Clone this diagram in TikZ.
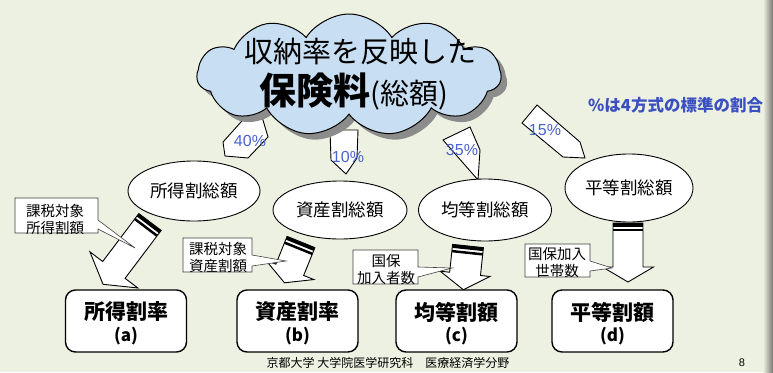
\documentclass[tikz,border=0pt]{standalone}
\usepackage{fontspec}
\newfontfamily\jp{Noto Sans CJK JP}
\newfontfamily\lat{Liberation Sans}
\usetikzlibrary{shapes.symbols,shapes.geometric,shadows}
\definecolor{bg}{RGB}{237,241,226}
\definecolor{cloudblue}{RGB}{200,222,242}
\definecolor{pctblue}{RGB}{72,98,206}
\definecolor{noteblue}{RGB}{58,80,192}
\definecolor{stripgray}{RGB}{120,120,112}
\tikzset{
  ell/.style={ellipse, draw=black, line width=0.9pt, fill=white, inner sep=0pt,
    font=\jp\fontsize{17.5}{20}\selectfont},
  pctarr/.style={draw=black, line width=0.9pt, fill=white, line join=miter},
  pctlbl/.style={text=pctblue, font=\lat\fontsize{16}{18}\selectfont, inner sep=0pt},
  blockarr/.style={draw=black, line width=0.9pt, fill=white, line join=miter},
  callout/.style={draw=black!75, line width=0.6pt, fill=white},
  calltxt/.style={font=\jp\fontsize{14.5}{17}\selectfont, align=center, inner sep=0pt},
  resbox/.style={draw=black, line width=1.4pt, fill=white, rounded corners=10pt,
    minimum width=121pt, minimum height=62pt, inner sep=0pt},
  restxt/.style={font=\jp\bfseries\fontsize{21}{24}\selectfont, inner sep=0pt},
  reslet/.style={font=\jp\bfseries\fontsize{17}{20}\selectfont, inner sep=0pt},
}
\newcommand\stripearrow[8]{%
  \begin{scope}[shift={(#1,#2)},rotate=-#3]
    \draw[blockarr] (-#4,0) -- (#4,0) -- (#4,#5) -- (#6,#5) -- (0,{#5+#7}) -- (-#6,#5) -- (-#4,#5) -- cycle;
    \fill[black] (-#4,0) rectangle (#4,3.5);
    \fill[black] (-#4,5.5) rectangle (#4,8);
    \coordinate (#8) at (0,{#5+#7});
  \end{scope}}
\begin{document}
\begin{tikzpicture}[x=1pt,y=-1pt]
\useasboundingbox (0,0) rectangle (773,372);
\fill[bg] (0,0) rectangle (773,372);

% percentage arrows (under the cloud)
\draw[pctarr] (250,112) -- (260,110) -- (268,137) -- (248,158) -- (225,156) -- (223,142) -- cycle;
\draw[pctarr] (330,130) -- (358,130) -- (357,158) -- (346,174) -- (331,160) -- cycle;
\draw[pctarr] (443,140) -- (470,127) -- (480,150) -- (478,180) -- cycle;
\draw[pctarr] (537,105) -- (522,123) -- (563,157) -- (585,158) -- (580,142) -- cycle;

% cloud
\node[cloud, cloud puffs=11, cloud puff arc=115, aspect=2.6,
  minimum width=304pt, minimum height=122pt, draw=black, line width=1pt,
  fill=cloudblue, drop shadow={shadow xshift=6pt, shadow yshift=-6pt, fill=black!45, opacity=1}]
  (cl) at (349,75) {};
\node[font=\jp\fontsize{29}{32}\selectfont, inner sep=0pt] (t1) at (360,52) {収納率を反映した};
\node[font=\jp\fontsize{29}{32}\selectfont, inner sep=0pt] (t2) at (354,92)
  {{\bfseries\fontsize{37}{40}\selectfont 保険料}(総額)};

\node[pctlbl] (p40) at (250,141) {40\%};
\node[pctlbl] (p10) at (348,157) {10\%};
\node[pctlbl] (p35) at (462,150) {35\%};
\node[pctlbl] (p15) at (545,130) {15\%};

% scanned page edge
\shade[left color=bg, right color=stripgray] (763,0) rectangle (773,372);

\node[anchor=west, text=noteblue, font=\jp\bfseries\fontsize{16.5}{20}\selectfont, inner sep=0pt]
  (note) at (588,105) {\%は4方式の標準の割合};

% ellipses
\node[ell, minimum width=132pt, minimum height=60pt] (e1) at (194,191) {所得割総額};
\node[ell, minimum width=134pt, minimum height=58pt] (e2) at (340,210) {資産割総額};
\node[ell, minimum width=133pt, minimum height=62pt] (e3) at (485,210) {均等割総額};
\node[ell, minimum width=128pt, minimum height=68pt] (e4) at (629,188) {平等割総額};

% striped block arrows
\stripearrow{150}{222}{37}{14}{60}{30}{18}{ta}
\stripearrow{301}{242}{22}{15}{30}{26}{14}{tb}
\stripearrow{468}{246}{6}{15.5}{28}{25}{16}{tc}
\stripearrow{628}{223}{0}{15}{44}{25.5}{15}{td}

% callouts
\draw[callout] (15,198) -- (98,198) -- (98,220) -- (135,248) -- (98,229) -- (98,233) -- (15,233) -- cycle;
\node[calltxt] (c1) at (55,219) {課税対象\\所得割額};
\draw[callout] (183,238) -- (252,238) -- (252,255) -- (286,261) -- (252,266) -- (252,272) -- (183,272) -- cycle;
\node[calltxt] (c2) at (218,257) {課税対象\\資産割額};
\draw[callout] (353,250) -- (418,250) -- (418,267) -- (452,268) -- (418,277) -- (418,284) -- (353,284) -- cycle;
\node[calltxt] (c3) at (386,270) {国保\\加入者数};
\draw[callout] (525,244) -- (590,244) -- (590,261) -- (612,268) -- (590,271) -- (590,277) -- (525,277) -- cycle;
\node[calltxt] (c4) at (557,263) {国保加入\\世帯数};

% result boxes
\node[resbox] (ba) at (126,321) {};
\node[resbox] (bb) at (297.5,321) {};
\node[resbox] (bc) at (456.5,321) {};
\node[resbox] (bd) at (612.5,321) {};
\node[restxt] (ba1) at (126,312) {所得割率};
\node[reslet] (ba2) at (126,336) {(a)};
\node[restxt] (bb1) at (297.5,312) {資産割率};
\node[reslet] (bb2) at (297.5,336) {(b)};
\node[restxt] (bc1) at (456.5,312) {均等割額};
\node[reslet] (bc2) at (456.5,336) {(c)};
\node[restxt] (bd1) at (612.5,312) {平等割額};
\node[reslet] (bd2) at (612.5,336) {(d)};

% footer
\node[font=\jp\fontsize{12}{14}\selectfont, inner sep=0pt] (foot) at (388,363) {京都大学 大学院医学研究科　医療経済学分野};
\node[font=\lat\fontsize{11}{13}\selectfont, inner sep=0pt] (pg) at (742,363) {8};
\end{tikzpicture}
\end{document}
